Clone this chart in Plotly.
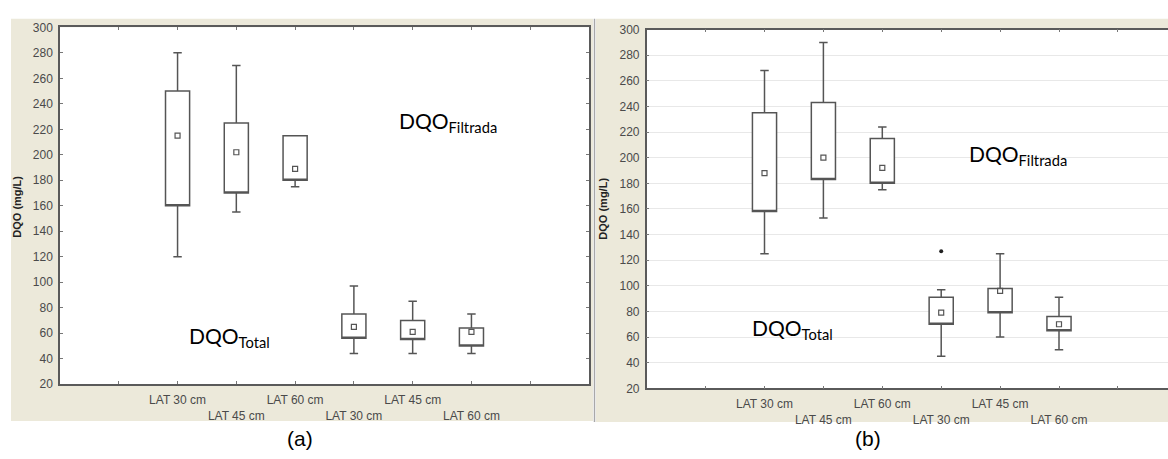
import plotly.graph_objects as go

# ---------------- data ----------------
categories = ["", "LAT 30 cm", "LAT 45 cm", "LAT 60 cm", "LAT 30 cm", "LAT 45 cm", "LAT 60 cm", ""]
y_ticks = list(range(20, 301, 20))

# panel (a)
a_pos = [2, 3, 4, 5, 6, 7]
a_min = [120, 155, 175, 44, 44, 44]
a_q1 = [160, 170, 180, 56, 55, 50]
a_med = [215, 202, 189, 65, 61, 61]
a_q3 = [250, 225, 215, 75, 70, 64]
a_max = [280, 270, 215, 97, 85, 75]

# panel (b)
b_pos = [2, 3, 4, 5, 6, 7]
b_min = [125, 153, 175, 45, 60, 50]
b_q1 = [158, 183, 180, 70, 79, 65]
b_med = [188, 200, 192, 79, 96, 70]
b_q3 = [235, 243, 215, 91, 98, 76]
b_max = [268, 290, 224, 97, 125, 91]
b_out_x = [5]
b_out_y = [127]

W, H = 1168, 459
def px(x):
    return x / W
def py(y):
    return 1 - y / H

BOX_C = "#555555"
TICK_C = "#4a4a4a"
BEIGE = "#ECE9DA"

fig = go.Figure()

def add_panel(pos, mn, q1, med, q3, mx, xa, ya):
    fig.add_trace(go.Box(
        x=pos, q1=q1, median=q1, q3=q3, lowerfence=mn, upperfence=mx,
        width=0.41, whiskerwidth=0.35, boxpoints=False,
        fillcolor="white", line=dict(color=BOX_C, width=1.5),
        xaxis=xa, yaxis=ya, showlegend=False, hoverinfo="skip",
    ))
    fig.add_trace(go.Scatter(
        x=pos, y=med, mode="markers",
        marker=dict(symbol="square-open", size=5, color="#555555", line=dict(width=1.2)),
        xaxis=xa, yaxis=ya, showlegend=False, hoverinfo="skip",
    ))

add_panel(a_pos, a_min, a_q1, a_med, a_q3, a_max, "x", "y")
add_panel(b_pos, b_min, b_q1, b_med, b_q3, b_max, "x2", "y2")
fig.add_trace(go.Scatter(
    x=b_out_x, y=b_out_y, mode="markers",
    marker=dict(symbol="circle", size=4, color="#222222"),
    xaxis="x2", yaxis="y2", showlegend=False, hoverinfo="skip",
))

ticktext = [("<br>" + c if (i % 2 == 0 and c) else c) for i, c in enumerate(categories)]
tickvals = list(range(1, len(categories) + 1))

common_x = dict(
    tickmode="array", tickvals=tickvals, ticktext=ticktext, tickangle=0,
    ticks="inside", ticklen=3, tickcolor="#777777", ticklabelstandoff=4,
    showline=True, linecolor="#5a5a5a", linewidth=1.5,
    showgrid=False, zeroline=False,
    tickfont=dict(family="Arial", size=12, color=TICK_C),
)
common_y = dict(
    tickmode="array", tickvals=y_ticks, range=[20, 300],
    ticks="inside", ticklen=3, tickcolor="#777777", ticklabelstandoff=3,
    showline=True, linecolor="#5a5a5a", linewidth=1.5,
    zeroline=False,
    tickfont=dict(family="Arial", size=12, color=TICK_C),
)

fig.update_layout(
    width=W, height=H,
    margin=dict(l=0, r=0, t=0, b=0),
    paper_bgcolor="white", plot_bgcolor="white",
    xaxis=dict(domain=[px(60), px(589)], range=[0, 9], mirror="ticks", anchor="y", **common_x),
    yaxis=dict(domain=[py(389), py(21)], mirror="ticks", showgrid=False, anchor="x", **common_y),
    xaxis2=dict(domain=[px(646.7), 1.0], range=[0, (W - 646.7) / 58.9], mirror="ticks", anchor="y2", **common_x),
    yaxis2=dict(domain=[py(393.3), py(23.3)], mirror=False, showgrid=True, gridcolor="#e8e8e8",
                gridwidth=1, anchor="x2", **common_y),
    shapes=[
        dict(type="rect", xref="paper", yref="paper", x0=px(11), x1=px(593), y0=py(427), y1=py(12),
             fillcolor=BEIGE, line=dict(width=0), layer="below"),
        dict(type="rect", xref="paper", yref="paper", x0=px(596), x1=1.0, y0=py(428), y1=py(12),
             fillcolor=BEIGE, line=dict(width=0), layer="below"),
        dict(type="line", xref="paper", yref="paper", x0=px(594.5), x1=px(594.5), y0=py(428), y1=py(12),
             line=dict(color="#a8a8a8", width=1.5), layer="below"),
        dict(type="rect", xref="paper", yref="paper", x0=px(60), x1=px(589), y0=py(389), y1=py(21),
             fillcolor="white", line=dict(width=0), layer="below"),
        dict(type="rect", xref="paper", yref="paper", x0=px(646.7), x1=1.0, y0=py(393.3), y1=py(23.3),
             fillcolor="white", line=dict(width=0), layer="below"),
    ],
    annotations=[
        dict(text="<b>DQO (mg/L)</b>", xref="paper", yref="paper", x=px(17), y=py(206),
             xanchor="center", yanchor="middle",
             textangle=-90, showarrow=False, font=dict(family="Arial", size=11, color="#222222")),
        dict(text="<b>DQO (mg/L)</b>", xref="paper", yref="paper", x=px(603), y=py(208),
             xanchor="center", yanchor="middle",
             textangle=-90, showarrow=False, font=dict(family="Arial", size=11, color="#222222")),
        dict(text="DQO<sub>Filtrada</sub>", xref="x", yref="y", x=5.73, y=226,
             xanchor="left", yanchor="middle", showarrow=False,
             font=dict(family="Lato", size=21, color="black")),
        dict(text="DQO<sub>Total</sub>", xref="x", yref="y", x=2.16, y=57,
             xanchor="left", yanchor="middle", showarrow=False,
             font=dict(family="Lato", size=21, color="black")),
        dict(text="DQO<sub>Filtrada</sub>", xref="x2", yref="y2", x=5.44, y=202,
             xanchor="left", yanchor="middle", showarrow=False,
             font=dict(family="Lato", size=21, color="black")),
        dict(text="DQO<sub>Total</sub>", xref="x2", yref="y2", x=1.75, y=66,
             xanchor="left", yanchor="middle", showarrow=False,
             font=dict(family="Lato", size=21, color="black")),
        dict(text="(a)", xref="paper", yref="paper", x=px(300), y=py(445),
             xanchor="center", yanchor="middle",
             showarrow=False, font=dict(family="Arial", size=21, color="black")),
        dict(text="(b)", xref="paper", yref="paper", x=px(868), y=py(445),
             xanchor="center", yanchor="middle",
             showarrow=False, font=dict(family="Arial", size=21, color="black")),
    ],
)

fig.write_html("out.html")
